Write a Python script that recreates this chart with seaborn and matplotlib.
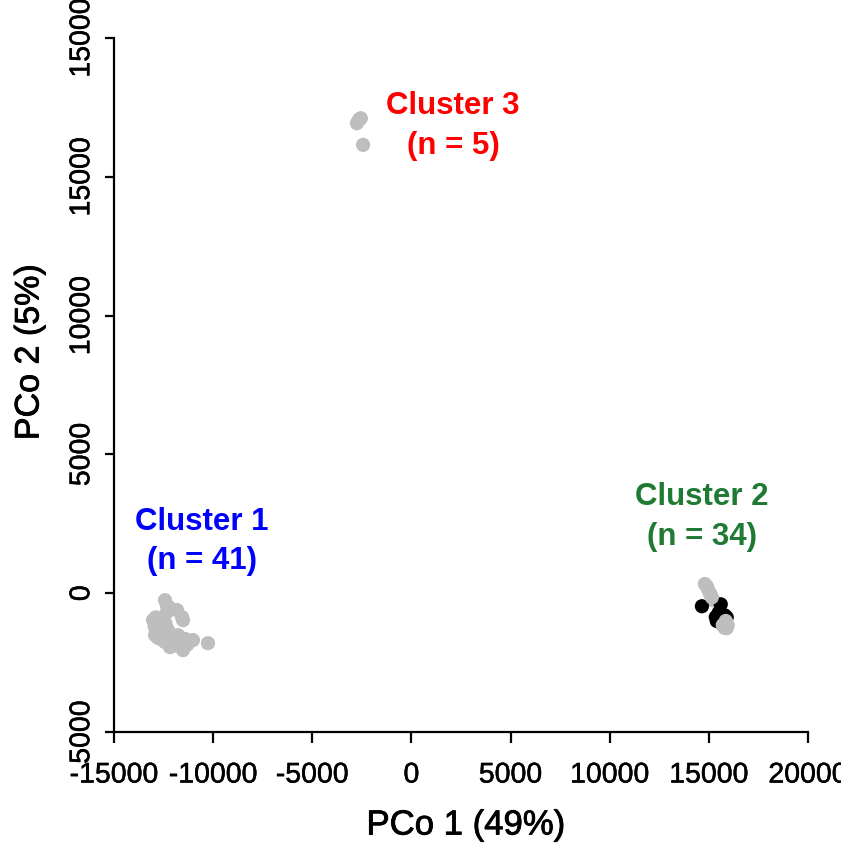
import matplotlib
matplotlib.use("Agg")
import matplotlib.pyplot as plt
import matplotlib.patheffects as pe
import seaborn as sns
import pandas as pd

# ---- data ----
c1_x = [-12430, -12330, -12200, -11820, -11570, -11520, -13030, -12900, -12680, -12560,
        -12800, -12930, -12560, -12430, -12180, -11770, -11570, -11520, -11020, -10260,
        -12700, -12950, -12600, -12300, -12050, -11900, -12750, -12850, -12500, -12650,
        -12100, -11650, -11300, -12400, -12800, -12200, -12000, -11400, -12550, -12900,
        -12350]
c1_y = [-250, -430, -520, -610, -860, -970, -970, -870, -1050, -900,
        -1330, -1510, -1580, -1760, -1940, -1510, -1800, -2050, -1690, -1800,
        -1150, -1200, -1400, -1300, -1650, -1850, -1000, -1450, -1200, -1650,
        -1500, -1700, -1850, -1100, -1600, -1750, -1900, -1650, -1350, -1050,
        -700]

c2_x = [14800, 14950, 15100, 15200,
        14650, 15600, 15350, 15450, 15550, 15700, 15900, 15800, 15650,
        15500, 15600, 15400, 15700, 15550, 15650, 15450, 15750,
        15820, 15900, 15850, 15750, 15050, 14900, 15150, 15850, 15900,
        15800, 15700, 15880, 15950]
c2_y = [330, 150, -60, -250,
        -470, -400, -860, -950, -1000, -900, -870, -800, -1100,
        -700, -850, -1000, -1050, -900, -950, -800, -950,
        -1150, -1260, -1000, -1200, 0, 250, -150, -1100, -1200,
        -1250, -1150, -1050, -1150]
c2_group = (["grey"] * 4 + ["black"] * 9 + ["black"] * 8 + ["grey"] * 13)

c3_x = [-2750, -2650, -2550, -2600, -2440]
c3_y = [16930, 17050, 17110, 17080, 16150]

x_ticks = [-15000, -10000, -5000, 0, 5000, 10000, 15000, 20000]
x_tick_labels = ["-15000", "-10000", "-5000", "0", "5000", "10000", "15000", "20000"]
y_ticks = [-5000, 0, 5000, 10000, 15000, 20000]
y_tick_labels = ["5000", "0", "5000", "10000", "15000", "15000"]

cluster_labels = ["Cluster 1\n(n = 41)", "Cluster 2\n(n = 34)", "Cluster 3\n(n = 5)"]
cluster_label_x = [-10560, 14655, 2100]
cluster_label_y = [1860, 2745, 16830]
cluster_colors = ["#0000FF", "#1F7A33", "#FF0000"]

df = pd.DataFrame({
    "x": c1_x + c2_x + c3_x,
    "y": c1_y + c2_y + c3_y,
    "group": ["grey"] * len(c1_x) + c2_group + ["grey"] * len(c3_x),
})

# ---- plot ----
sns.set_theme(style="white")
plt.rcParams["font.family"] = ["Liberation Sans", "DejaVu Sans"]

fig = plt.figure(figsize=(8.41, 8.43), dpi=100)
ax = fig.add_axes([114 / 841, 1 - 732 / 843, 694 / 841, 694 / 843])

sns.scatterplot(data=df, x="x", y="y", hue="group",
                palette={"grey": "#BEBEBE", "black": "#000000"},
                s=105, linewidth=0, edgecolor="none", legend=False, ax=ax,
                clip_on=False, alpha=1)

ax.set_xlim(-15000, 20000)
ax.set_ylim(-5000, 20000)
ax.set_xticks(x_ticks)
ax.set_xticklabels(x_tick_labels)
ax.set_yticks(y_ticks)
ax.set_yticklabels(y_tick_labels, rotation=90, va="center")

for side in ["top", "right"]:
    ax.spines[side].set_visible(False)
for side in ["left", "bottom"]:
    ax.spines[side].set_linewidth(1.6)
    ax.spines[side].set_color("black")

ax.tick_params(axis="x", direction="out", length=8, width=1.6, color="black",
               pad=14, labelsize=20.5, labelcolor="black", bottom=True)
ax.tick_params(axis="y", direction="out", length=6.5, width=1.6, color="black",
               pad=7, labelsize=20.5, labelcolor="black", left=True)

heavy = [pe.withStroke(linewidth=0.35, foreground="black")]
for t in ax.get_xticklabels() + ax.get_yticklabels():
    t.set_path_effects(heavy)

ax.set_xlabel("PCo 1 (49%)", fontsize=25, color="black")
ax.set_ylabel("PCo 2 (5%)", fontsize=24.5, color="black")
ax.xaxis.label.set_path_effects([pe.withStroke(linewidth=0.6, foreground="black")])
ax.yaxis.label.set_path_effects([pe.withStroke(linewidth=0.6, foreground="black")])
ax.xaxis.label.set_va("center")
ax.yaxis.label.set_va("center")
ax.xaxis.set_label_coords(0.507, (732 - 825) / 694)
ax.yaxis.set_label_coords((30 - 114) / 694, (732 - 352) / 694)

for lab, lx, ly, col in zip(cluster_labels, cluster_label_x, cluster_label_y, cluster_colors):
    ax.text(lx, ly, lab, color=col, fontsize=22.5, fontweight="bold",
            ha="center", va="center", linespacing=1.42)

fig.savefig("out.png", dpi=100)
